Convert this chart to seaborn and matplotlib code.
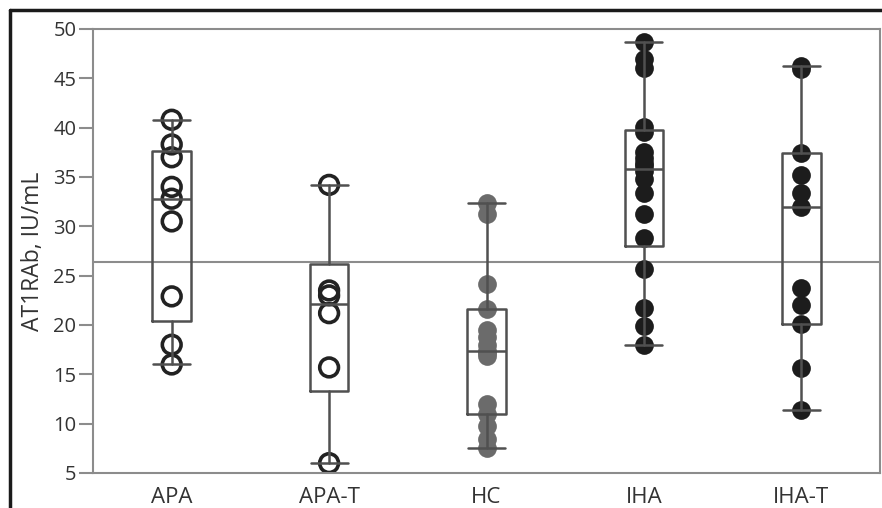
import numpy as np
import pandas as pd
import matplotlib.pyplot as plt
from matplotlib.lines import Line2D
import seaborn as sns

# values (AT1RAb, IU/mL)
groups = ["APA", "APA-T", "HC", "IHA", "IHA-T"]
apa = [40.8, 38.3, 37.0, 34.0, 32.8, 30.5, 22.9, 18.0, 16.0]
apa_t = [34.2, 23.5, 23.0, 21.2, 15.7, 6.0]
hc = [32.4, 31.2, 24.2, 21.6, 19.5, 18.8, 18.0, 17.4, 17.2, 16.9,
      12.0, 11.0, 9.8, 8.4, 7.5]
iha = [48.7, 47.0, 46.0, 40.1, 39.6, 37.5, 36.9, 36.4, 36.1, 35.6,
       34.8, 33.4, 31.2, 28.8, 25.7, 21.7, 19.9, 18.0]
iha_t = [46.3, 45.9, 37.4, 35.2, 33.4, 32.0, 23.7, 22.0, 20.1, 15.6, 11.4]
ref_line = 26.4
y_ticks = [5, 10, 15, 20, 25, 30, 35, 40, 45, 50]

values = [apa, apa_t, hc, iha, iha_t]
df = pd.concat([pd.DataFrame({"group": g, "value": v}) for g, v in zip(groups, values)],
               ignore_index=True)

sns.set_style("white")
plt.rcParams["font.family"] = ["Open Sans", "DejaVu Sans"]

fig = plt.figure(figsize=(8.82, 5.08), dpi=100)
ax = fig.add_axes([93 / 882, 35 / 508, (880 - 93) / 882, (473 - 29) / 508])

gray_line = "#8c8c8c"
box_col = "#505050"

# points: open circles for APA groups, gray for HC, black for IHA groups
styles = {"APA": "#222222", "APA-T": "#222222", "HC": "#6b6b6b",
          "IHA": "#1c1c1c", "IHA-T": "#1c1c1c"}
for g in groups:
    sub = df[df["group"] == g]
    n_before = len(ax.collections)
    is_open = g.startswith("APA")
    sns.stripplot(data=sub, x="group", y="value", order=groups, jitter=False,
                  color=styles[g], size=13.5, linewidth=2.6 if is_open else 0,
                  edgecolor=styles[g], ax=ax, zorder=2)
    if is_open:
        for coll in ax.collections[n_before:]:
            coll.set_facecolor("none")
            coll.set_edgecolor(styles[g])
            coll.set_linewidth(2.6)

# box stats with (n+1)p quantiles, whiskers to extreme points inside 1.5 IQR
stats = []
for g, v in zip(groups, values):
    arr = np.array(v)
    q1, med, q3 = np.percentile(arr, [25, 50, 75], method="weibull")
    iqr = q3 - q1
    lo = arr[arr >= q1 - 1.5 * iqr].min()
    hi = arr[arr <= q3 + 1.5 * iqr].max()
    stats.append({"med": med, "q1": q1, "q3": q3, "whislo": lo, "whishi": hi,
                  "fliers": []})

lp = dict(color=box_col, linewidth=1.8)
ax.bxp(stats, positions=range(len(groups)), widths=0.245, capwidths=0.235,
       showfliers=False, boxprops=lp, medianprops=lp, whiskerprops=lp,
       capprops=lp, zorder=3, manage_ticks=False)

ax.axhline(ref_line, color=gray_line, linewidth=1.5, zorder=1)

ax.set_xlim(-0.5, len(groups) - 0.5)
ax.set_ylim(5, 50)
ax.set_yticks(y_ticks)
ax.set_xticks([0.5, 1.5, 2.5, 3.5])
ax.set_xticklabels([])
ax.set_xticks(range(len(groups)), minor=True)
ax.set_xticklabels(groups, minor=True)
ax.tick_params(axis="x", which="major", length=7, width=1.5, color=gray_line)
ax.tick_params(axis="x", which="minor", length=0, pad=10, labelsize=16, labelcolor="#333333")
ax.tick_params(axis="y", length=10, width=1.5, color=gray_line, labelsize=14.5,
               labelcolor="#333333", left=True, pad=2)
ax.set_xlabel("")
ax.set_ylabel("AT1RAb, IU/mL", fontsize=16.5, color="#333333", labelpad=6)
for s in ax.spines.values():
    s.set_color(gray_line)
    s.set_linewidth(1.5)

# black frame of the original figure panel (top and left edges)
fig.add_artist(Line2D([10 / 882, 1], [1 - 10 / 508] * 2, transform=fig.transFigure,
                      color="#1a1a1a", linewidth=2.5))
fig.add_artist(Line2D([10 / 882] * 2, [0, 1 - 10 / 508], transform=fig.transFigure,
                      color="#1a1a1a", linewidth=2.5))

fig.savefig("out.png", dpi=100)
